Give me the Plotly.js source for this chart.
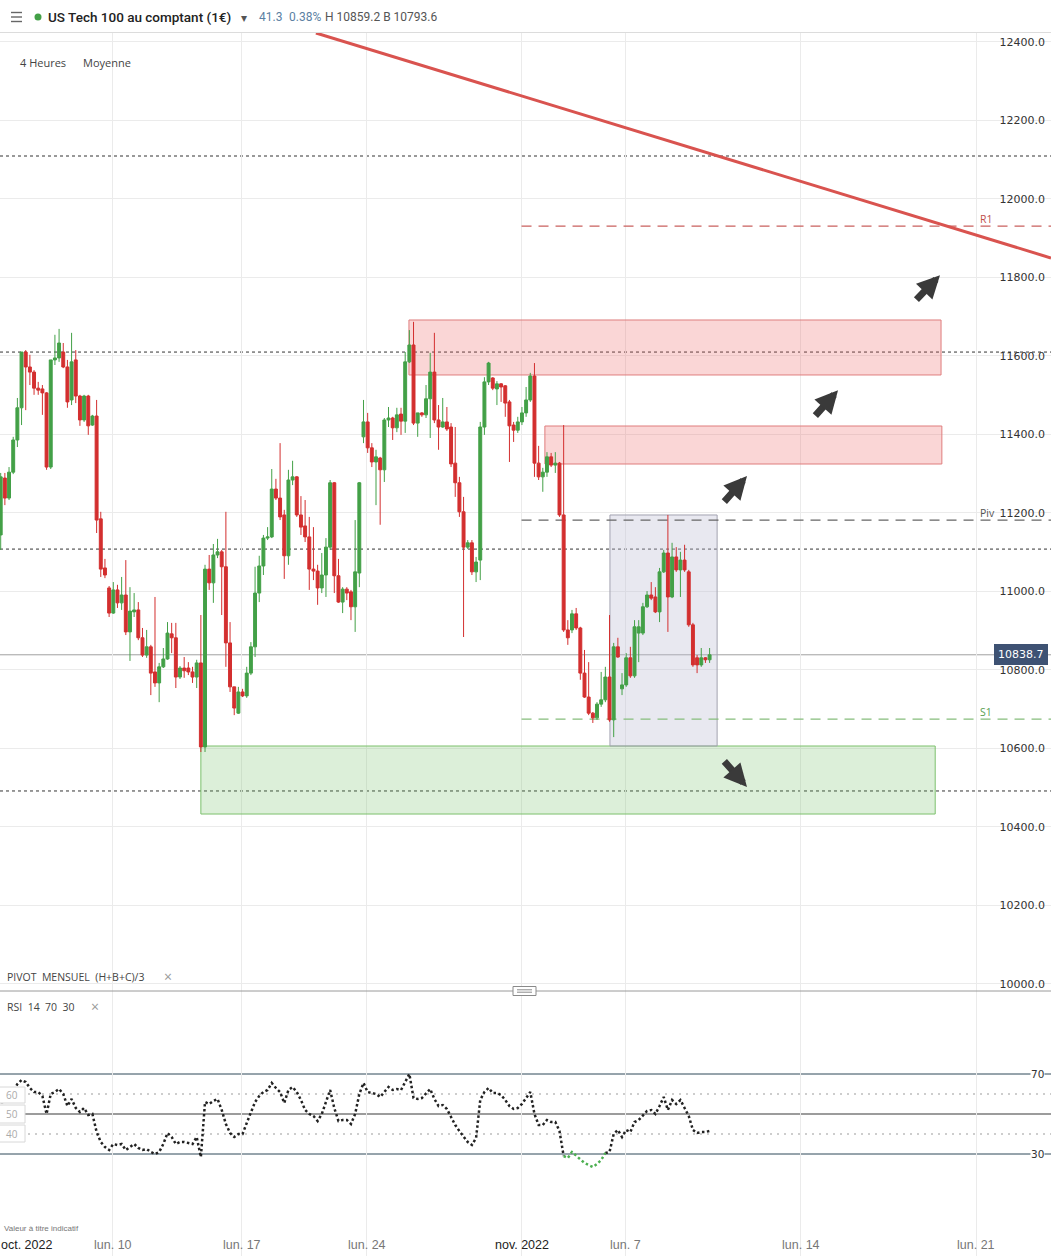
<!DOCTYPE html>
<html><head><meta charset="utf-8">
<script src="https://cdn.plot.ly/plotly-3.0.1.min.js"></script>
<style>html,body{margin:0;padding:0;background:#fff;}#chart{width:1051px;height:1256px;}</style>
</head><body><div id="chart"></div>
<script>
// ---------- DATA ----------
const opens = [11144,11289,11238,11304,11386,11468,11610,11572,11559,11518,11516,11506,11317,11590,11595,11610,11572,11488,11590,11498,
11437,11498,11424,11447,11185,11060,11009,10945,11004,10971,10991,10897,10948,10953,10882,10838,10859,10795,10767,10808,
10828,10892,10882,10782,10805,10805,10795,10782,10818,10604,11057,11022,11093,11101,11063,10869,10757,10690,10744,10734,
10792,10859,10996,11065,11136,11139,11261,11238,11195,11091,11284,11292,11195,11167,11139,11057,11052,11009,11042,11113,
11277,11040,10973,11006,10999,10961,11047,11394,11432,11366,11330,11340,11310,11437,11442,11417,11452,11434,11585,11628,
11429,11455,11450,11491,11559,11437,11419,11432,11419,11327,11277,11203,11113,11124,11050,11080,11419,11534,11544,11516,
11529,11524,11483,11424,11411,11432,11455,11488,11549,11327,11292,11304,11343,11322,11327,11195,10902,10902,10943,10907,
10792,10731,10690,10678,10713,10724,10782,10673,10859,10752,10762,10831,10785,10894,10894,10961,10991,10986,10948,11050,
11098,10986,11088,11055,11080,11050,10915,10831,10813,10831,10826];
const highs = [11302,11302,11317,11394,11493,11610,11615,11603,11564,11534,11526,11508,11590,11654,11669,11633,11590,11659,11615,11501,
11501,11501,11450,11488,11203,11083,11014,11024,11017,11037,11080,11011,10996,10973,10907,10902,10864,10986,10818,10856,
10922,10920,10920,10810,10833,10820,10808,10826,10940,11068,11093,11121,11134,11106,11203,10922,10757,10757,10752,10808,
10871,11063,11091,11144,11164,11312,11287,11378,11208,11310,11333,11294,11243,11233,11190,11164,11068,11098,11136,11284,
11279,11083,11011,11011,11004,11182,11279,11488,11455,11378,11361,11343,11442,11470,11445,11468,11468,11610,11666,11687,
11455,11457,11526,11608,11659,11475,11493,11470,11429,11419,11292,11241,11131,11131,11088,11432,11546,11585,11546,11536,
11531,11526,11488,11432,11445,11470,11521,11557,11582,11371,11315,11355,11353,11355,11330,11424,10927,10953,10958,10910,
10851,10820,10693,10718,10795,10808,10940,10869,10882,10792,10843,10859,10927,10927,10971,11001,11024,11011,11060,11106,
11195,11124,11113,11101,11119,11055,10920,10838,10856,10833,10856];
const lows = [11106,11220,11233,11299,11368,11424,11462,11526,11501,11501,11450,11310,11312,11577,11585,11569,11468,11475,11480,11422,
11432,11399,11422,11149,11037,11034,10935,10943,10958,10953,10889,10823,10935,10876,10833,10831,10736,10757,10718,10805,
10826,10843,10754,10777,10780,10787,10767,10754,10591,10591,11004,10971,11085,10940,10808,10744,10685,10688,10731,10729,
10787,10833,10973,11042,11131,11136,11233,11182,11032,11068,11271,11190,11144,11126,11004,11029,10966,10996,10986,11106,
10996,10971,10945,10978,10927,10897,11011,11378,11353,11317,11220,11170,11279,11419,11386,11406,11399,11404,11582,11424,
11394,11445,11442,11391,11429,11361,11417,11409,11317,11241,11190,10884,11108,11042,11024,11029,11399,11526,11513,11475,
11483,11445,11330,11381,11404,11424,11445,11483,11292,11284,11254,11292,11317,11302,11190,10897,10864,10894,10902,10775,
10729,10685,10665,10673,10706,10718,10668,10629,10831,10736,10757,10780,10780,10820,10889,10958,10978,10945,10922,11047,
10897,10983,11050,10986,11050,10910,10808,10792,10808,10818,10818];
const closes = [11292,11238,11304,11386,11468,11610,11572,11559,11518,11513,11506,11317,11590,11595,11633,11572,11483,11585,11498,11437,
11498,11422,11447,11182,11057,11042,10945,11004,10971,10991,10897,10950,10953,10882,10838,10859,10792,10767,10808,10828,
10894,10882,10782,10805,10798,10795,10782,10818,10604,11057,11022,11093,11101,11063,10869,10757,10703,10744,10734,10792,
10859,10996,11065,11136,11139,11261,11238,11190,11091,11284,11292,11195,11164,11139,11057,11052,11009,11042,11113,11277,
11040,10973,11006,10996,10961,11050,11277,11432,11366,11330,11343,11310,11437,11442,11417,11450,11434,11585,11628,11429,
11455,11450,11491,11559,11437,11419,11432,11414,11325,11277,11203,11113,11124,11050,11075,11419,11534,11582,11518,11529,
11521,11480,11422,11411,11432,11455,11488,11549,11327,11292,11304,11343,11322,11327,11195,10902,10882,10943,10907,10792,
10731,10690,10678,10713,10724,10782,10673,10859,10833,10762,10831,10785,10910,10910,10961,10991,10983,10948,11050,11098,
10986,11088,11055,11080,11055,10915,10813,10813,10831,10826,10838.7];
const rsi = [56,56,57,61,65,67,66,63,61,61,
59,50,60,61,62.5,60,54,57.5,53,51,
53,49.5,50,41,36,33.5,32,35,34.5,35,
32,33.5,35,33,32,32.5,31,30,31,35,
40.5,38.5,35,36,36,35.5,35,38.5,28.5,56,
55,56.5,57.5,52,45,40.5,38.5,40,40,45.5,
51,56,59,61,62,65.5,63,61,55.5,62,
63.5,61,57,52,50,49,46.5,50,56,62,
53,46.5,47,47,45,50,60,65.5,61,60.5,
60,58.5,61,63.5,62,62.5,62,66,70,58,
57.5,58,60,62.5,57.5,54,54.5,52.5,48.5,44.5,
41.5,38.5,36,34.5,38,57,61,63,60.5,60.5,
59.5,57,54,52.5,53,55,58,61,50,44.5,
44.5,47,46,46,41.5,29,28,31,29,27,
25.5,24.5,23.5,25,27,30.5,31,40,42,38.5,
42,41,46,47,49,51.5,52,50,54,58.5,
52,57,55,57,53,49,42,40.5,41,41,
41.5];
const lastPrice = 10838.7;
const priceTicks = [10000,10200,10400,10600,10800,11000,11200,11400,11600,11800,12000,12200,12400];
const dottedLevels = [12109.5, 11610, 11108, 10491.7];
const pivotNames = ['R1','Piv','S1'];
const pivotValues = [11931, 11182, 10675];
const dateTickPos = [26.86, 57.8, 87.77, 124.9, 149.95, 191.9, 233.9];
const dateTickText = ['lun. 10','lun. 17','lun. 24','nov. 2022','lun. 7','lun. 14','lun. 21'];
const monthStartLabel = 'oct. 2022';
const rsiLevels = [70, 60, 50, 40, 30];
// drawn zones [x0, x1, yLow, yHigh]
const redZone1 = [97.9, 225.5, 11551.6, 11691.7];
const redZone2 = [130.5, 225.7, 11324.8, 11421.6];
const grayZone = [146.1, 171.8, 10606.3, 11194.9];
const greenZone = [48.0, 224.1, 10433.0, 10606.3];
const trendX = [75.6, 251.87];
const trendY = [12422.9, 11849.7];
const arrowTipX = [225.25, 200.8, 178.97, 178.97];
const arrowTipY = [11806, 11513, 11294, 10502];

// ---------- LAYOUT ----------
const W = 1051, H = 1256;
const pY = p => 1 - p / H;
const pX = p => p / W;
const idx = opens.map((_, i) => i);
const X0 = -0.168, X1 = 251.87;

const GREEN = '#43a047', RED = '#d32f2f';

const candles = {
  type: 'candlestick', x: idx, open: opens, high: highs, low: lows, close: closes,
  xaxis: 'x', yaxis: 'y', hoverinfo: 'skip', whiskerwidth: 0,
  increasing: {line: {color: GREEN, width: 1}, fillcolor: GREEN},
  decreasing: {line: {color: RED, width: 1}, fillcolor: RED}
};
const greenFrom = 135, greenTo = 145;
const rsiBlack = rsi.map((v, i) => (i > greenFrom && i < greenTo) ? null : v);
const rsiGreen = rsi.map((v, i) => (i >= greenFrom && i <= greenTo) ? v : null);
const rsiTrace = {type: 'scatter', mode: 'lines', x: idx, y: rsiBlack, xaxis: 'x', yaxis: 'y2',
  line: {color: '#222', width: 2.5, dash: '2.5px,2.5px'}, hoverinfo: 'skip', connectgaps: false};
const rsiTraceG = {type: 'scatter', mode: 'lines', x: idx, y: rsiGreen, xaxis: 'x', yaxis: 'y2',
  line: {color: '#4caf50', width: 2.5, dash: '2.5px,2.5px'}, hoverinfo: 'skip', connectgaps: false};

const shapes = [];
const zoneStyle = (z, fill, border) => ({type: 'rect', xref: 'x', yref: 'y', x0: z[0], x1: z[1], y0: z[2], y1: z[3],
  fillcolor: fill, line: {color: border, width: 1}, layer: 'between'});
shapes.push(zoneStyle(greenZone, 'rgba(110,190,95,0.24)', '#7cc06c'));
shapes.push(zoneStyle(redZone1, 'rgba(236,90,90,0.25)', '#df7d7d'));
shapes.push(zoneStyle(redZone2, 'rgba(236,90,90,0.25)', '#df7d7d'));
shapes.push(zoneStyle(grayZone, 'rgba(190,190,212,0.35)', '#a2a2b0'));
// dotted horizontal levels
dottedLevels.forEach(v => shapes.push({type: 'line', xref: 'paper', yref: 'y', x0: 0, x1: 1, y0: v, y1: v,
  line: {color: '#333', width: 1, dash: '3px,3px'}, layer: 'between'}));
// pivot levels
const pivotColors = ['#c9605e', '#666', '#86bd7c'];
pivotValues.forEach((v, k) => shapes.push({type: 'line', xref: 'x', yref: 'y', x0: dateTickPos[3], x1: X1, y0: v, y1: v,
  line: {color: pivotColors[k], width: 1.3, dash: '10px,7px'}, layer: 'between'}));
// last price line
shapes.push({type: 'line', xref: 'paper', yref: 'y', x0: 0, x1: 1, y0: lastPrice, y1: lastPrice,
  line: {color: '#a0a0a0', width: 1}, layer: 'between'});
// trend line
shapes.push({type: 'line', xref: 'x', yref: 'y', x0: trendX[0], x1: trendX[1], y0: trendY[0], y1: trendY[1],
  line: {color: '#d9534f', width: 3}, layer: 'above'});
// RSI levels
const rsiLevelStyle = {70: {color: '#2f4858', width: 1}, 30: {color: '#2f4858', width: 1},
  50: {color: '#9c9c9c', width: 2}, 60: {color: '#bdbdbd', width: 1.6, dash: '2px,5px'}, 40: {color: '#bdbdbd', width: 1.6, dash: '2px,5px'}};
rsiLevels.forEach(v => shapes.push({type: 'line', xref: 'paper', yref: 'y2', x0: 0, x1: 1, y0: v, y1: v,
  line: rsiLevelStyle[v], layer: 'between'}));
// header
shapes.push({type: 'rect', xref: 'paper', yref: 'paper', x0: 0, x1: 1, y0: pY(32), y1: 1, fillcolor: '#fff', line: {width: 0}, layer: 'above'});
shapes.push({type: 'line', xref: 'paper', yref: 'paper', x0: pX(0), x1: pX(1051), y0: pY(32.5), y1: pY(32.5), line: {color: '#dcdcdc', width: 1}, layer: 'above'});
[12.5, 17, 21.5].forEach(yy => shapes.push({type: 'line', xref: 'paper', yref: 'paper', x0: pX(11), x1: pX(22), y0: pY(yy), y1: pY(yy),
  line: {color: '#666', width: 1.4}, layer: 'above'}));
shapes.push({type: 'circle', xref: 'paper', yref: 'paper', x0: pX(34.5), x1: pX(41.5), y0: pY(20.5), y1: pY(13.5),
  fillcolor: '#43a047', line: {width: 0}, layer: 'above'});
// panel separator and handle
shapes.push({type: 'line', xref: 'paper', yref: 'paper', x0: 0, x1: 1, y0: pY(991), y1: pY(991), line: {color: '#9a9a9a', width: 1}, layer: 'above'});
shapes.push({type: 'rect', xref: 'paper', yref: 'paper', x0: pX(513), x1: pX(536), y0: pY(995.5), y1: pY(986.5),
  fillcolor: '#fff', line: {color: '#8a8a8a', width: 1}, layer: 'above'});
[989.8, 992.2].forEach(yy => shapes.push({type: 'line', xref: 'paper', yref: 'paper', x0: pX(517), x1: pX(532), y0: pY(yy), y1: pY(yy),
  line: {color: '#8a8a8a', width: 1}, layer: 'above'}));
// RSI left value boxes
[[1087, 1103], [1105, 1123], [1125, 1142]].forEach(b => shapes.push({type: 'rect', xref: 'paper', yref: 'paper',
  x0: pX(-1), x1: pX(25), y0: pY(b[1]), y1: pY(b[0]), fillcolor: '#fff', line: {color: '#d8d8d8', width: 1}, layer: 'above'}));

const ann = [];
const txt = (x, y, text, opt) => Object.assign({xref: 'paper', yref: 'paper', x: pX(x), y: pY(y), text: text, showarrow: false,
  xanchor: 'left', yanchor: 'middle', font: {family: 'Roboto, Open Sans, sans-serif', size: 12, color: '#333'}}, opt || {});
ann.push(txt(46, 17, 'US Tech 100 au comptant (1€)', {font: {family: 'Roboto, sans-serif', size: 13.5, color: '#222', weight: 500}}));
ann.push(txt(244, 18, '▾', {xanchor: 'center', font: {family: 'DejaVu Sans', size: 12, color: '#555'}}));
ann.push(txt(257, 17, '41.3', {font: {family: 'Roboto, sans-serif', size: 12, color: '#5b7fa3'}}));
ann.push(txt(287, 17, '0.38%', {font: {family: 'Roboto, sans-serif', size: 12, color: '#5b7fa3'}}));
ann.push(txt(323, 17, 'H 10859.2 B 10793.6', {font: {family: 'Roboto, sans-serif', size: 12, color: '#555'}}));
ann.push(txt(18, 62, '4 Heures', {font: {family: 'Open Sans, sans-serif', size: 11, color: '#444'}}));
ann.push(txt(81, 62, 'Moyenne', {font: {family: 'Open Sans, sans-serif', size: 11, color: '#444'}}));
ann.push(txt(5, 977, 'PIVOT\u00a0\u00a0MENSUEL\u00a0\u00a0(H+B+C)/3', {font: {family: 'Open Sans, sans-serif', size: 10.5, color: '#444'}}));
ann.push(txt(168, 976.5, '×', {xanchor: 'center', font: {family: 'Open Sans, sans-serif', size: 14, color: '#999'}}));
ann.push(txt(5, 1007, 'RSI\u00a0\u00a014\u00a0\u00a070\u00a0\u00a030', {font: {family: 'Open Sans, sans-serif', size: 10.5, color: '#444'}}));
ann.push(txt(95, 1006.5, '×', {xanchor: 'center', font: {family: 'Open Sans, sans-serif', size: 14, color: '#999'}}));
ann.push(txt(2, 1228, 'Valeur à titre indicatif', {font: {family: 'Liberation Sans Narrow, Arial Narrow, sans-serif', size: 8, color: '#777'}}));
// RSI left box labels
[[1094.5, '60'], [1114, '50'], [1133.5, '40']].forEach(b => ann.push(txt(12, b[0], b[1],
  {xanchor: 'center', font: {family: 'Open Sans, sans-serif', size: 10, color: '#aaa'}})));
// RSI right labels
[70, 30].forEach(v => ann.push({xref: 'paper', yref: 'y2', x: pX(1037), y: v, text: String(v), showarrow: false,
  xanchor: 'center', yanchor: 'middle', bgcolor: '#fff', borderpad: 0, font: {family: 'DejaVu Sans', size: 10.5, color: '#333'}}));
// pivot labels
const pivotLabelColors = ['#c0504d', '#555', '#5aa050'];
pivotNames.forEach((n, k) => ann.push({xref: 'paper', yref: 'y', x: pX(978), y: pivotValues[k], yshift: 7, text: n, showarrow: false,
  xanchor: 'left', yanchor: 'middle', font: {family: 'Open Sans, sans-serif', size: 10.5, color: pivotLabelColors[k]}}));
// last price box
ann.push({xref: 'paper', yref: 'y', x: pX(1048), y: lastPrice, text: String(lastPrice), showarrow: false, xanchor: 'right', yanchor: 'middle',
  bgcolor: '#3e5273', bordercolor: '#3e5273', borderpad: 3, font: {family: 'DejaVu Sans', size: 11, color: '#fff'}});
// date labels
dateTickText.forEach((t, k) => ann.push({xref: 'x', yref: 'paper', x: dateTickPos[k], y: pY(1245), text: t, showarrow: false,
  xanchor: 'center', yanchor: 'middle', font: {family: 'Liberation Sans Narrow, Arial Narrow, sans-serif', size: 12.5,
  color: t.indexOf('2022') >= 0 ? '#222' : '#777'}}));
ann.push({xref: 'x', yref: 'paper', x: 6.07, y: pY(1245), text: monthStartLabel, showarrow: false, xanchor: 'center', yanchor: 'middle',
  font: {family: 'Liberation Sans Narrow, Arial Narrow, sans-serif', size: 12.5, color: '#222'}});
// arrows
const arrowOff = [[-25, 26], [-24, 27], [-24, 27], [-24, -27]];
arrowTipX.forEach((ax, k) => ann.push({xref: 'x', yref: 'y', x: ax, y: arrowTipY[k], ax: arrowOff[k][0], ay: arrowOff[k][1],
  text: '', showarrow: true, arrowhead: 2, arrowsize: 0.65, arrowwidth: 7, arrowcolor: '#3a3a3a', standoff: 0}));

const layout = {
  width: W, height: H, margin: {l: 0, r: 0, t: 0, b: 0}, paper_bgcolor: '#fff', plot_bgcolor: '#fff',
  showlegend: false, boxgap: 0.3, boxgroupgap: 0, dragmode: false,
  xaxis: {domain: [0, 1], range: [X0, X1], anchor: 'y2', tickvals: dateTickPos, showticklabels: false, ticks: '',
    showgrid: true, gridcolor: '#ebebeb', gridwidth: 1, zeroline: false, showline: false, rangeslider: {visible: false}, fixedrange: true},
  yaxis: {domain: [pY(991), pY(33)], range: [9982.1, 12422.9], side: 'right', anchor: 'x', ticklabelposition: 'inside',
    tickvals: priceTicks, ticktext: priceTicks.map(v => v.toFixed(1)), ticks: '', ticklabelstandoff: 3,
    tickfont: {family: 'DejaVu Sans', size: 11, color: '#333'}, showgrid: true, gridcolor: '#ebebeb', zeroline: false, showline: false, fixedrange: true},
  yaxis2: {domain: [0, pY(991)], range: [-21, 111.5], anchor: 'x', showgrid: false, zeroline: false, showticklabels: false, ticks: '', fixedrange: true},
  shapes: shapes, annotations: ann
};
Plotly.newPlot('chart', [candles, rsiTrace, rsiTraceG], layout, {displayModeBar: false, staticPlot: true});
</script></body></html>
